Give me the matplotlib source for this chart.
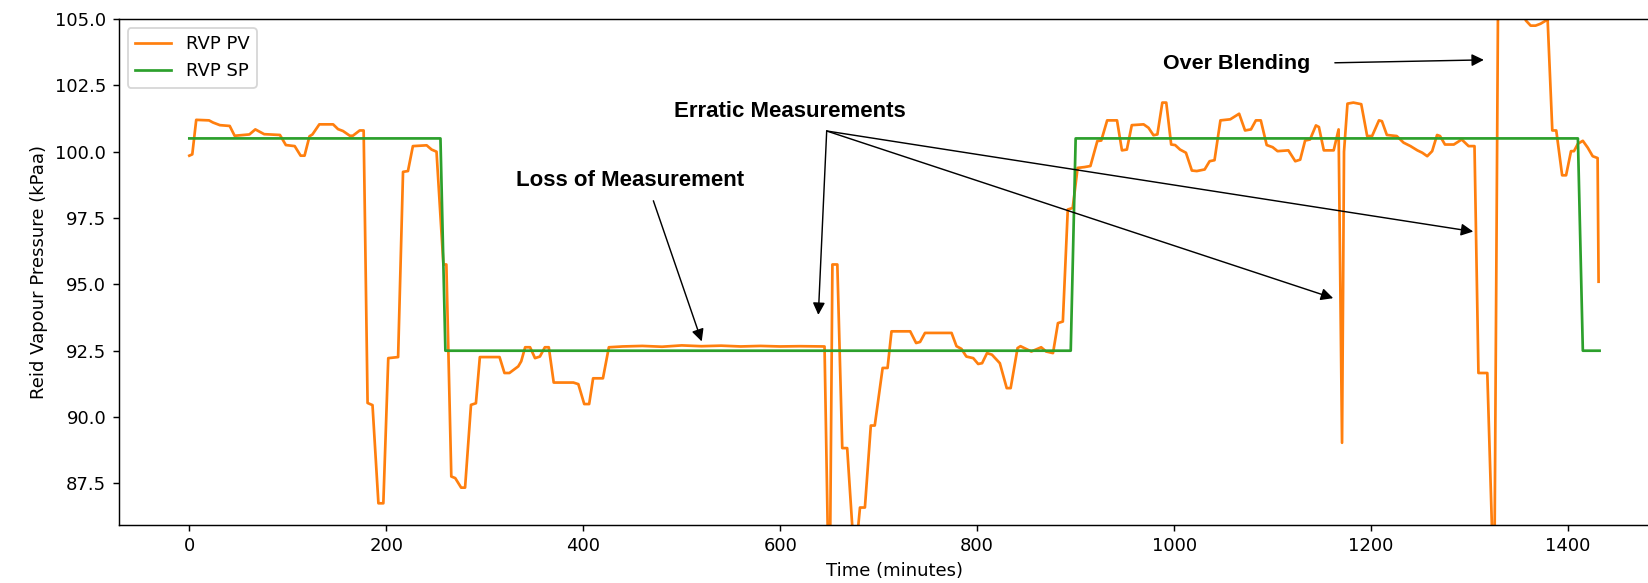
import matplotlib
matplotlib.use('Agg')
import matplotlib.pyplot as plt

# ── RVP process value (minutes, kPaa) ──────────────────
pv_time = [0, 3, 7, 20, 24, 31, 41, 46, 61, 67, 76, 92, 98, 107, 113, 117,
           122, 125, 132, 146, 151, 156, 163, 166, 173, 177, 181, 186, 192,
           197, 202, 212, 217, 222, 227, 241, 246, 251, 258, 261, 266, 270,
           276, 280, 286, 291, 295, 315, 320, 325, 334, 337, 341, 346, 351,
           356, 361, 365, 370, 390, 395, 401, 406, 410, 420, 426, 440, 460,
           480, 500, 520, 540, 560, 580, 600, 620, 645, 650, 653, 658, 663,
           668, 674, 678, 681, 686, 692, 696, 704, 709, 713, 732, 738, 742,
           747, 774, 779, 784, 789, 796, 801, 805, 810, 815, 823, 830, 834,
           841, 844, 855, 865, 870, 877, 882, 887, 892, 897, 902, 909, 915,
           922, 926, 932, 942, 947, 952, 957, 969, 974, 979, 983, 988, 992,
           997, 1001, 1006, 1012, 1018, 1023, 1031, 1036, 1041, 1047, 1057,
           1066, 1072, 1078, 1083, 1088, 1094, 1100, 1105, 1116, 1123, 1128,
           1133, 1138, 1144, 1147, 1152, 1162, 1167, 1170.5, 1172.5, 1176,
           1182, 1190, 1196, 1201, 1208, 1211, 1216, 1226, 1233, 1240, 1247,
           1252, 1257, 1262, 1267, 1270, 1275, 1284, 1292, 1299, 1305, 1309,
           1318, 1325, 1330, 1352, 1357, 1362, 1367, 1372, 1377, 1379, 1384,
           1388, 1394, 1398, 1403, 1406, 1410, 1415, 1420, 1425, 1430, 1431]
pv_value = [99.85, 99.9, 101.2, 101.18, 101.1, 101.0, 100.97, 100.6, 100.65,
            100.84, 100.66, 100.63, 100.25, 100.21, 99.85, 99.85, 100.58,
            100.65, 101.03, 101.03, 100.85, 100.78, 100.6, 100.6, 100.8,
            100.8, 90.53, 90.45, 86.75, 86.75, 92.22, 92.26, 99.24, 99.27,
            100.21, 100.24, 100.08, 100.0, 95.75, 95.75, 87.76, 87.7, 87.34,
            87.34, 90.46, 90.52, 92.26, 92.26, 91.66, 91.66, 91.91, 92.1,
            92.63, 92.63, 92.22, 92.28, 92.63, 92.63, 91.3, 91.3, 91.24,
            90.49, 90.49, 91.46, 91.46, 92.63, 92.66, 92.68, 92.65, 92.7,
            92.67, 92.69, 92.66, 92.68, 92.66, 92.67, 92.66, 82.0, 95.75,
            95.75, 88.83, 88.83, 85.4, 85.4, 86.59, 86.59, 89.68, 89.68,
            91.85, 91.85, 93.23, 93.23, 92.79, 92.83, 93.17, 93.17, 92.67,
            92.57, 92.28, 92.22, 92.0, 92.03, 92.41, 92.35, 92.03, 91.09,
            91.09, 92.6, 92.67, 92.47, 92.63, 92.47, 92.41, 93.54, 93.6,
            97.82, 97.88, 99.39, 99.42, 99.46, 100.4, 100.42, 101.18, 101.18,
            100.05, 100.08, 101.0, 101.03, 100.9, 100.62, 100.65, 101.85,
            101.85, 100.27, 100.25, 100.08, 99.96, 99.29, 99.27, 99.33, 99.64,
            99.68, 101.18, 101.22, 101.43, 100.8, 100.84, 101.18, 101.18,
            100.25, 100.17, 100.02, 100.05, 99.64, 99.7, 100.42, 100.46,
            100.99, 100.93, 100.05, 100.05, 100.84, 89.03, 100.0, 101.81,
            101.85, 101.79, 100.59, 100.59, 101.18, 101.15, 100.63, 100.59,
            100.34, 100.21, 100.05, 99.96, 99.83, 100.02, 100.63, 100.59,
            100.27, 100.27, 100.46, 100.21, 100.21, 91.66, 91.66, 83.0, 112.0,
            107.0, 104.95, 104.75, 104.75, 104.82, 104.93, 105.2, 100.8,
            100.8, 99.11, 99.11, 100.02, 100.02, 100.3, 100.41, 100.15, 99.83,
            99.76, 95.1]

# ── RVP setpoint ──────────────────────────────────────────────────────────
sp_time = [0, 255, 260, 895, 900, 1410, 1415, 1432]
sp_value = [100.5, 100.5, 92.5, 92.5, 100.5, 100.5, 92.5, 92.5]

DPI = 130
fig = plt.figure(figsize=(1648 / DPI, 583 / DPI), dpi=DPI)
# right spine sits just past the cropped edge, as in the original screenshot
ax = fig.add_axes([0.0721, 0.1003, 0.9413, 0.8671])

ax.plot(pv_time, pv_value, color='C1', label='RVP PV')
ax.plot(sp_time, sp_value, color='C2', label='RVP SP')
ax.set_ylim(85.95, 105.0)
ax.set_xlabel('Time (minutes)')
ax.set_ylabel('Reid Vapour Pressure (kPaa)')
ax.legend(loc='upper left')

# ── callouts ──────────────────────────────────────────────────────────────
note_font = dict(family=['Liberation Sans', 'DejaVu Sans'], weight='bold',
                 ha='center', va='center', color='black')
arrow = dict(arrowstyle='-|>', color='black', lw=0.8,
             mutation_scale=14, shrinkA=0, shrinkB=0)

ax.text(448, 98.91, 'Loss of Measurement', fontsize=12.3, **note_font)
ax.annotate('', xy=(520.3, 92.85), xytext=(471.2, 98.15), arrowprops=arrow)

ax.text(610, 101.5, 'Erratic Measurements', fontsize=12.3, **note_font)
for tip in [(638.7, 93.85), (1161.5, 94.48), (1303.7, 96.99)]:
    ax.annotate('', xy=tip, xytext=(647.2, 100.78), arrowprops=arrow)

ax.text(1063, 103.33, 'Over Blending', fontsize=11.9, **note_font)
ax.annotate('', xy=(1314.5, 103.46), xytext=(1163.2, 103.35), arrowprops=arrow)

fig.savefig('out.png', dpi=DPI)
